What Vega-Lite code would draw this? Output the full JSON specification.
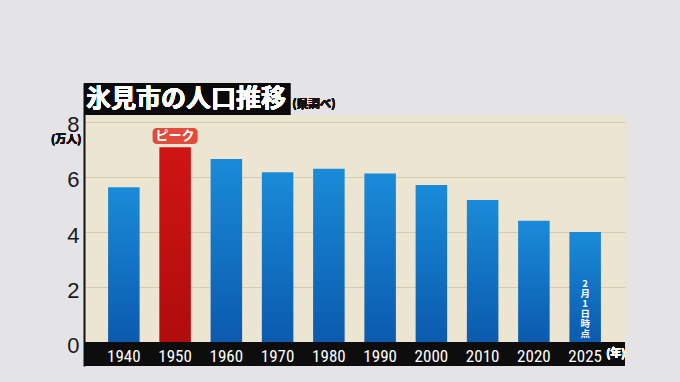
{
  "$schema": "https://vega.github.io/schema/vega-lite/v6.json",
  "width": 541,
  "height": 283,
  "autosize": {"type": "none"},
  "padding": {"left": 84, "top": 83, "right": 55, "bottom": 16},
  "background": "#e4e4e6",
  "view": {"fill": "#ece5d2", "stroke": null},
  "config": {"font": "Noto Sans CJK JP"},
  "data": {
    "values": [
      {"year": "1940", "pop": 5.62},
      {"year": "1950", "pop": 7.07},
      {"year": "1960", "pop": 6.65},
      {"year": "1970", "pop": 6.17},
      {"year": "1980", "pop": 6.29},
      {"year": "1990", "pop": 6.12},
      {"year": "2000", "pop": 5.71},
      {"year": "2010", "pop": 5.16},
      {"year": "2020", "pop": 4.41},
      {"year": "2025", "pop": 4.0}
    ]
  },
  "resolve": {"scale": {"x": "independent"}},
  "layer": [
    {
      "layer": [
        {
          "mark": {"type": "bar", "cornerRadius": 4, "color": "#e04b3b", "width": {"band": 1.43}},
          "transform": [{"filter": "datum.year == '1950'"}],
          "encoding": {
            "x": {"field": "year", "type": "nominal"},
            "y": {"datum": 7.19, "type": "quantitative"},
            "y2": {"datum": 7.77}
          }
        },
        {
          "mark": {"type": "bar"},
          "encoding": {
            "x": {
              "field": "year",
              "type": "nominal",
              "sort": null,
              "scale": {"paddingInner": 0.385, "paddingOuter": 0.47},
              "axis": {
                "orient": "bottom",
                "title": null,
                "domain": false,
                "ticks": false,
                "grid": false,
                "bandPosition": 0.5,
                "labelAngle": 0,
                "labelAlign": "center",
                "labelColor": "#ffffff",
                "labelFont": "Liberation Sans Narrow, Roboto Condensed, Roboto",
                "labelFontSize": 17,
                "labelBaseline": "middle",
                "labelPadding": -10,
                "zindex": 1
              }
            },
            "y": {
              "field": "pop",
              "type": "quantitative",
              "scale": {"domain": [-0.85, 9.4], "nice": false, "zero": false},
              "axis": {
                "title": null,
                "values": [0, 2, 4, 6, 8],
                "grid": true,
                "gridColor": "#d4cbb3",
                "gridWidth": 1,
                "domain": true,
                "domainColor": "#111111",
                "domainWidth": 2,
                "ticks": false,
                "labelFont": "Liberation Sans",
                "labelFontSize": 22,
                "labelColor": "#1a1a1a",
                "labelPadding": 5,
                "labelOffset": 3
              }
            },
            "color": {
              "condition": {
                "test": "datum.year == '1950'",
                "value": {"gradient": "linear", "x1": 0, "y1": 0, "x2": 0, "y2": 1,
                  "stops": [{"offset": 0, "color": "#d01414"}, {"offset": 1, "color": "#b00c0c"}]}
              },
              "value": {"gradient": "linear", "x1": 0, "y1": 0, "x2": 0, "y2": 1,
                "stops": [{"offset": 0, "color": "#1a8bd8"}, {"offset": 1, "color": "#0b5aae"}]}
            }
          }
        },
        {
          "mark": {"type": "text", "fontSize": 13, "fontWeight": "bold", "color": "#ffffff"},
          "transform": [{"filter": "datum.year == '1950'"}],
          "encoding": {
            "x": {"field": "year", "type": "nominal"},
            "y": {"datum": 7.48, "type": "quantitative"},
            "text": {"datum": "ピーク"}
          }
        },
        {
          "mark": {"type": "text", "fontSize": 9.5, "fontWeight": "bold", "color": "#ffffff", "baseline": "top", "lineBreak": "\n", "lineHeight": 10},
          "transform": [{"filter": "datum.year == '2025'"}],
          "encoding": {
            "x": {"field": "year", "type": "nominal"},
            "y": {"datum": 2.29, "type": "quantitative"},
            "text": {"datum": "2\n月\n1\n日\n時\n点"}
          }
        }
      ]
    },
    {
      "layer": [
        {
          "mark": {"type": "rect", "color": "#e4e4e6"},
          "encoding": {
            "y": {"datum": 8.24, "type": "quantitative"},
            "y2": {"datum": 9.4}
          }
        },
        {
          "mark": {"type": "rect", "color": "#0d0d0d"},
          "encoding": {
            "y": {"datum": -0.85, "type": "quantitative"},
            "y2": {"datum": 0}
          }
        },
        {
          "mark": {"type": "rect", "color": "#0a0a0a"},
          "encoding": {
            "x": {"datum": 0, "type": "quantitative", "scale": {"domain": [0, 1], "nice": false, "zero": false}, "axis": null},
            "x2": {"datum": 0.381},
            "y": {"datum": 8.24, "type": "quantitative"},
            "y2": {"datum": 9.4}
          }
        },
        {
          "mark": {"type": "text", "fontSize": 25, "fontWeight": "bold", "color": "#ffffff"},
          "encoding": {
            "x": {"datum": 0.1885, "type": "quantitative", "scale": {"domain": [0, 1], "nice": false, "zero": false}, "axis": null},
            "y": {"datum": 8.82, "type": "quantitative"},
            "text": {"datum": "氷見市の人口推移"}
          }
        },
        {
          "mark": {"type": "text", "fontSize": 11.5, "fontWeight": "bold", "color": "#111111", "align": "left"},
          "encoding": {
            "x": {"datum": 0.385, "type": "quantitative", "scale": {"domain": [0, 1], "nice": false, "zero": false}, "axis": null},
            "y": {"datum": 8.62, "type": "quantitative"},
            "text": {"datum": "(県調べ)"}
          }
        },
        {
          "mark": {"type": "text", "fontSize": 11, "fontWeight": "bold", "color": "#111111"},
          "encoding": {
            "x": {"datum": -0.033, "type": "quantitative", "scale": {"domain": [0, 1], "nice": false, "zero": false}, "axis": null},
            "y": {"datum": 7.35, "type": "quantitative"},
            "text": {"datum": "(万人)"}
          }
        },
        {
          "mark": {"type": "text", "fontSize": 11, "fontWeight": "bold", "color": "#ffffff"},
          "encoding": {
            "x": {"datum": 0.983, "type": "quantitative", "scale": {"domain": [0, 1], "nice": false, "zero": false}, "axis": null},
            "y": {"datum": -0.42, "type": "quantitative"},
            "text": {"datum": "(年)"}
          }
        }
      ]
    }
  ]
}
